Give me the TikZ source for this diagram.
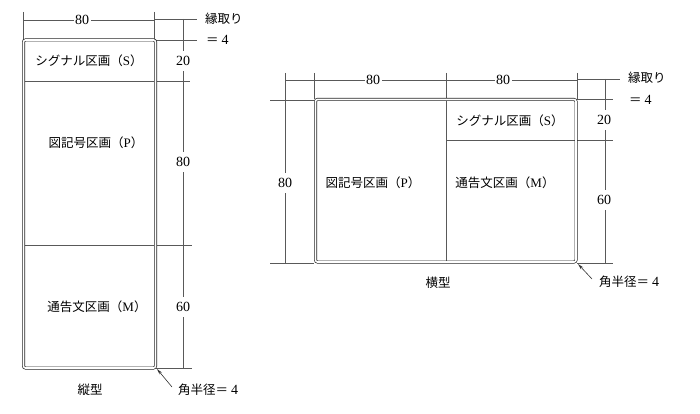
\documentclass[tikz,border=0pt]{standalone}
\usepackage{fontspec}
\setmainfont{Liberation Serif}
\newfontfamily\jp{Noto Sans CJK JP}
\usetikzlibrary{arrows.meta}
\tikzset{
  frame/.style={draw=black!85, double=white, line width=0.7pt, double distance=1.6pt, rounded corners=2pt},
  divline/.style={draw=black!65, line width=0.55pt},
  dimline/.style={draw=black!65, line width=0.55pt},
  lbl/.style={font=\jp\fontsize{12.5}{14}\selectfont, inner sep=0pt},
  num/.style={font=\fontsize{14}{16}\selectfont, fill=white, inner xsep=1.5pt, inner ysep=1.5pt},
  vnum/.style={num, inner ysep=5pt},
  leader/.style={draw=black!80, line width=0.6pt, {Stealth[length=6pt,width=3pt]}-},
}
\begin{document}
\begin{tikzpicture}[x=1pt,y=-1pt]
\useasboundingbox (0,0) rectangle (700,414);
% ---------------- Left (縦型) ----------------
\coordinate (LA) at (23.5,40);
\coordinate (LB) at (155.5,368);
\draw[divline] (24,81) -- (190,81);
\draw[divline] (24,245) -- (192,245);
% dimension lines
\draw[dimline] (23,12) -- (23,40);
\draw[dimline] (154,12) -- (154,40);
\draw[dimline] (23,20) -- (154,20);
\draw[dimline] (154,19) -- (197,19);
\draw[dimline] (156,40) -- (197,40);
\draw[dimline] (183,19) -- (183,368);
\draw[dimline] (156,368) -- (192,368);
\draw[frame] (LA) rectangle (LB);
\node[num] (lw) at (82,20) {80};
\node[vnum] (l20) at (183,61) {20};
\node[vnum] (l80) at (183,162) {80};
\node[vnum] (l60) at (183,307) {60};
\node[lbl, anchor=west] (lfuchi) at (205,19) {縁取り};
\node[lbl, anchor=west] (leq) at (206,40) {＝ {\rmfamily\fontsize{14}{15}\selectfont 4}};
\node[lbl] (lS) at (89,61) {シグナル区画（{\rmfamily\fontsize{13}{15}\selectfont S}）};
\node[lbl] (lP) at (96,143) {図記号区画（{\rmfamily\fontsize{13}{15}\selectfont P}）};
\node[lbl] (lM) at (97,307) {通告文区画（{\rmfamily\fontsize{13}{15}\selectfont M}）};
\node[lbl] (ltate) at (90,390) {縦型};
\node[lbl, anchor=west] (lkaku) at (178,390) {角半径＝ {\rmfamily\fontsize{14}{15}\selectfont 4}};
\coordinate (lcorner) at (157,369);
\coordinate (lleadend) at (172,387);
\draw[leader] (lcorner) -- (lleadend);
% ---------------- Right (横型) ----------------
\coordinate (RA) at (315.5,99.5);
\coordinate (RB) at (576,262);
\draw[divline] (446,100) -- (446,262);
\draw[divline] (446,140) -- (613,140);
% dimension lines
\draw[dimline] (285,80) -- (577,80);
\draw[dimline] (314,73) -- (314,99);
\draw[dimline] (446,73) -- (446,100);
\draw[dimline] (577,73) -- (577,99);
\draw[dimline] (285,73) -- (285,263);
\draw[dimline] (270,100) -- (314,100);
\draw[dimline] (270,263) -- (314,263);
\draw[dimline] (577,79) -- (620,79);
\draw[dimline] (577,99) -- (613,99);
\draw[dimline] (605,79) -- (605,263);
\draw[dimline] (577,263) -- (613,263);
\draw[frame] (RA) rectangle (RB);
\node[num] (rw1) at (373,80) {80};
\node[num] (rw2) at (503,80) {80};
\node[vnum] (rh) at (285,183) {80};
\node[vnum] (r20) at (604,120) {20};
\node[vnum] (r60) at (604,200) {60};
\node[lbl, anchor=west] (rfuchi) at (628,78) {縁取り};
\node[lbl, anchor=west] (req) at (629,100) {＝ {\rmfamily\fontsize{14}{15}\selectfont 4}};
\node[lbl] (rS) at (510,121) {シグナル区画（{\rmfamily\fontsize{13}{15}\selectfont S}）};
\node[lbl] (rP) at (373,183) {図記号区画（{\rmfamily\fontsize{13}{15}\selectfont P}）};
\node[lbl] (rM) at (505,183) {通告文区画（{\rmfamily\fontsize{13}{15}\selectfont M}）};
\node[lbl] (ryoko) at (438,283) {横型};
\node[lbl, anchor=west] (rkaku) at (599,282) {角半径＝ {\rmfamily\fontsize{14}{15}\selectfont 4}};
\coordinate (rcorner) at (578,264);
\coordinate (rleadend) at (592,279);
\draw[leader] (rcorner) -- (rleadend);
\end{tikzpicture}
\end{document}
